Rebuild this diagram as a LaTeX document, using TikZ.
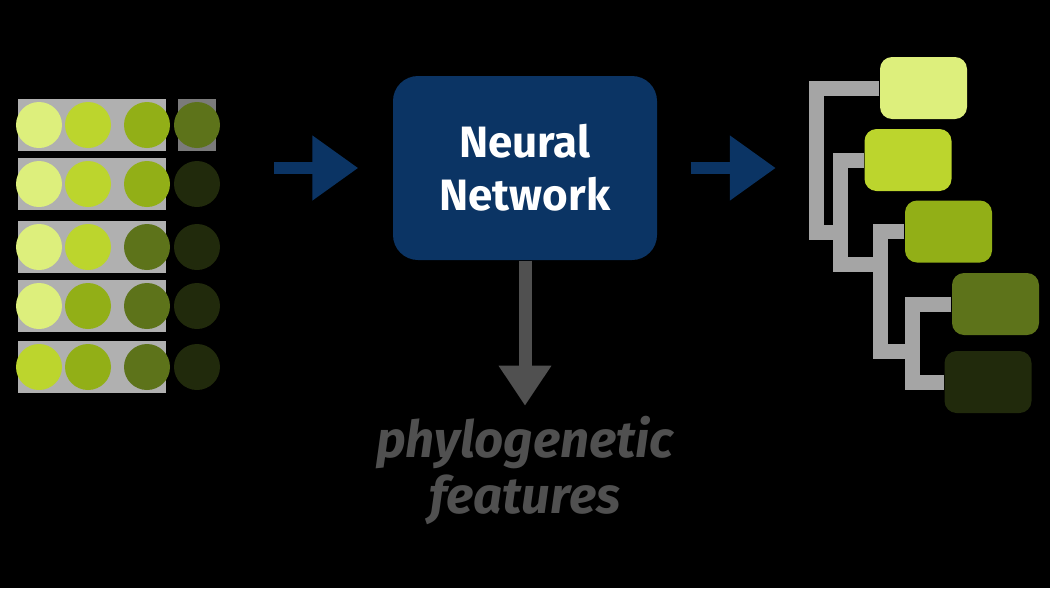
\documentclass[tikz,border=0pt]{standalone}
\usepackage{fontspec}
\setmainfont{Fira Sans}
\usepackage{xcolor}
\definecolor{nnblue}{RGB}{11,52,100}
\definecolor{featgrey}{RGB}{80,80,80}
\definecolor{branchgrey}{RGB}{165,165,165}
\definecolor{dotbg}{RGB}{176,176,176}
\definecolor{lv1}{RGB}{221,239,124}
\definecolor{lv2}{RGB}{188,213,45}
\definecolor{lv3}{RGB}{146,175,23}
\definecolor{lv4}{RGB}{93,115,26}
\definecolor{lv5}{RGB}{33,42,12}
\usetikzlibrary{positioning, arrows.meta, fit}

\begin{document}
\begin{tikzpicture}[
  dot/.style={circle, minimum size=0.46cm, inner sep=0pt},
  leaf/.style={rounded corners=0.12cm, minimum width=0.87cm, minimum height=0.62cm, inner sep=0pt},
  nnbox/.style={fill=nnblue, rounded corners=0.25cm, minimum width=2.64cm, minimum height=1.84cm,
              text=white, font=\fontsize{12.5}{15}\selectfont\bfseries, align=center},
  featlabel/.style={text=featgrey, font=\fontsize{14.5}{16}\selectfont\bfseries\itshape,
              align=center, inner sep=0pt},
  flow/.style={-{Triangle[length=0.46cm, width=0.62cm]}, line width=0.12cm, nnblue},
  drop/.style={-{Triangle[length=0.4cm, width=0.5cm]}, line width=0.13cm, featgrey},
  branch/.style={line width=0.15cm, branchgrey},
]
% Background
\fill[black] (0,0) rectangle (10.5,5.88);
\useasboundingbox (0,0) rectangle (10.5,5.88);

% Grey strips behind the dots
\fill[dotbg] (0.18,4.37) rectangle (1.66,4.89);
\fill[dotbg!70!black] (1.78,4.37) rectangle (2.16,4.89);
\fill[dotbg] (0.18,3.78) rectangle (1.66,4.30);
\fill[dotbg] (0.18,3.15) rectangle (1.66,3.67);
\fill[dotbg] (0.18,2.56) rectangle (1.66,3.08);
\fill[dotbg] (0.18,1.95) rectangle (1.66,2.47);

% Character matrix
\node[dot, fill=lv1] (d11) at (0.39,4.63) {};
\node[dot, fill=lv2] (d12) at (0.88,4.63) {};
\node[dot, fill=lv3] (d13) at (1.47,4.63) {};
\node[dot, fill=lv4] (d14) at (1.97,4.63) {};

\node[dot, fill=lv1] (d21) at (0.39,4.04) {};
\node[dot, fill=lv2] (d22) at (0.88,4.04) {};
\node[dot, fill=lv3] (d23) at (1.47,4.04) {};
\node[dot, fill=lv5] (d24) at (1.97,4.04) {};

\node[dot, fill=lv1] (d31) at (0.39,3.41) {};
\node[dot, fill=lv2] (d32) at (0.88,3.41) {};
\node[dot, fill=lv4] (d33) at (1.47,3.41) {};
\node[dot, fill=lv5] (d34) at (1.97,3.41) {};

\node[dot, fill=lv1] (d41) at (0.39,2.82) {};
\node[dot, fill=lv3] (d42) at (0.88,2.82) {};
\node[dot, fill=lv4] (d43) at (1.47,2.82) {};
\node[dot, fill=lv5] (d44) at (1.97,2.82) {};

\node[dot, fill=lv2] (d51) at (0.39,2.21) {};
\node[dot, fill=lv3] (d52) at (0.88,2.21) {};
\node[dot, fill=lv4] (d53) at (1.47,2.21) {};
\node[dot, fill=lv5] (d54) at (1.97,2.21) {};

\node[fit=(d11)(d54), inner sep=0pt] (grid) {};

% Network
\node[nnbox] (nn) at (5.25,4.20) {Neural\\Network};
\node[featlabel, below=1.55cm of nn] (feat) {phylogenetic\\features};

% Tree leaves
\node[leaf, fill=lv1] (b1) at (9.235,5.00) {};
\node[leaf, fill=lv2] (b2) at (9.08,4.28) {};
\node[leaf, fill=lv3] (b3) at (9.485,3.565) {};
\node[leaf, fill=lv4] (b4) at (9.955,2.84) {};
\node[leaf, fill=lv5] (b5) at (9.88,2.06) {};

% Branches
\coordinate (c1) at (8.16,3.56);
\coordinate (c2) at (8.405,3.24);
\coordinate (c3) at (8.805,2.37);
\coordinate (c4) at (9.12,2.37);
\draw[branch] (b1.west) -| (c1) -- (c1 -| c2);
\draw[branch] (b2.west) -| (c2) -| (c3);
\draw[branch] (b3.west) -| (c3) -- (c4);
\draw[branch] (b4.west) -| (c4) |- (b5.west);

\node[fit=(b1)(b5)(c1), inner sep=0.075cm] (tree) {};

% Arrows
\draw[flow, shorten <=0.53cm, shorten >=0.34cm] (nn.west -| grid.east) -- (nn.west);
\draw[flow, shorten <=0.33cm, shorten >=0.32cm] (nn.east) -- (nn.east -| tree.west);
\draw[drop, shorten >=0.1cm] (nn.south) -- (feat.north);
\end{tikzpicture}
\end{document}
